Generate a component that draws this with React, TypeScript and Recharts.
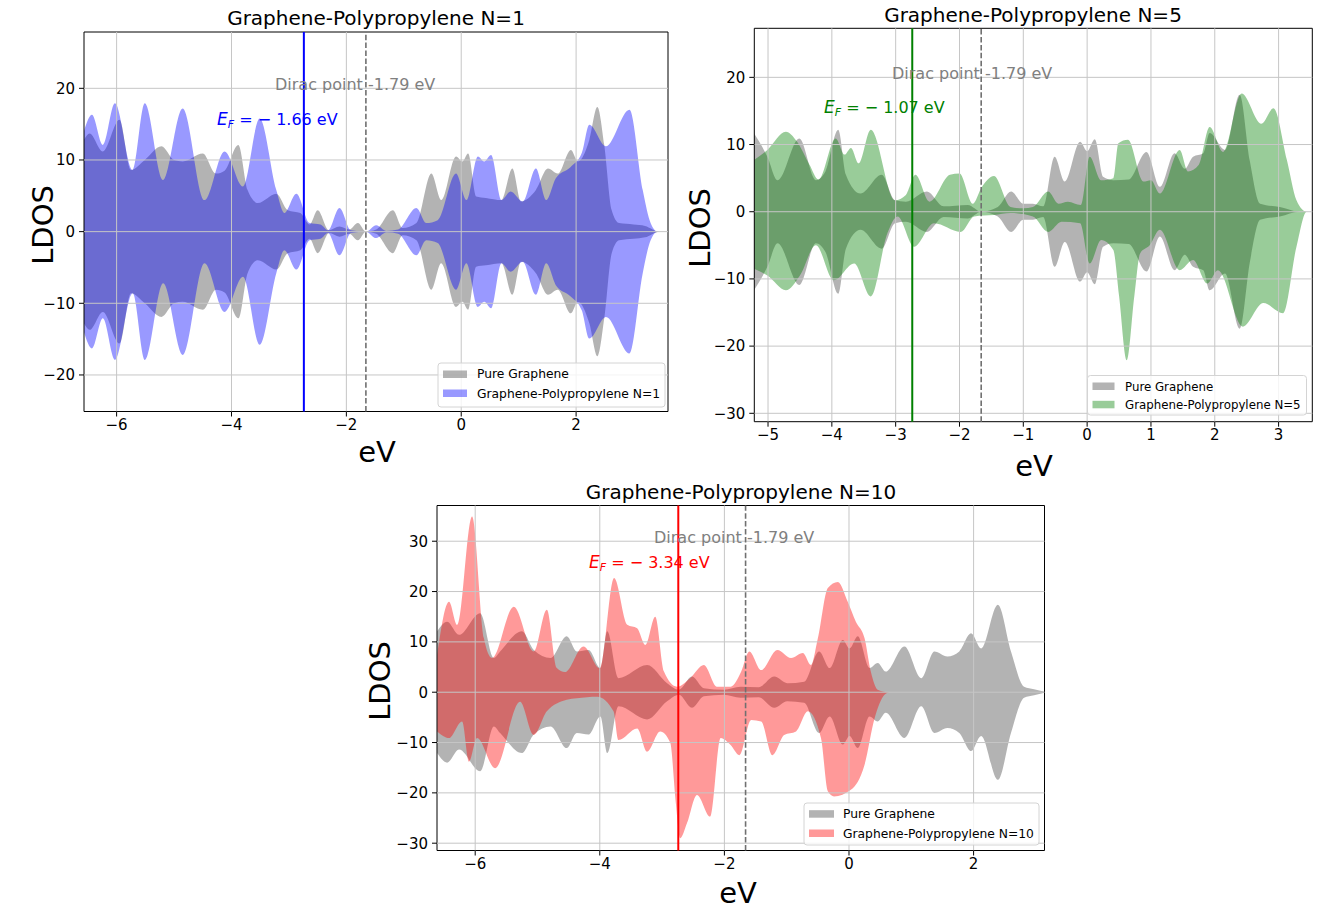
import React from 'react';
import { ComposedChart, Area, XAxis, YAxis, ReferenceLine, ReferenceArea } from 'recharts';

const FONT = '"DejaVu Sans", Verdana, sans-serif';

// ---------- Plot 1 : Graphene-Polypropylene N=1 ----------
const P1_GRAY_X = [-6.57, -6.47, -6.24, -5.95, -5.75, -5.51, -5.22, -5.0, -4.85, -4.5, -4.27, -4.12, -3.88, -3.72, -3.54, -3.22, -3.02, -2.8, -2.64, -2.5, -2.3, -2.12, -1.95, -1.8, -1.66, -1.48, -1.19, -1.02, -0.78, -0.52, -0.35, -0.09, 0.02, 0.12, 0.26, 0.43, 0.7, 0.89, 1.04, 1.3, 1.51, 1.68, 1.91, 2.03, 2.23, 2.37, 2.49, 2.62, 2.75, 3.0, 3.2, 3.45, 3.6];
const P1_GRAY_Y = [12.8, 13.7, 11.2, 15.6, 8.6, 10.0, 11.9, 10.0, 9.8, 10.9, 8.1, 8.5, 12.1, 5.8, 4.0, 5.3, 3.0, 2.6, 1.0, 3.0, 0.2, 0.7, 0.3, 1.2, 0, 0.3, 3.0, 0.5, 1.2, 8.1, 4.4, 10.5, 9.8, 10.9, 4.9, 4.7, 4.4, 8.8, 4.2, 5.8, 8.8, 8.1, 11.4, 9.8, 12.8, 17.4, 12.1, 3.0, 1.2, 1.0, 0.8, 0, 0];
const P1_N1_X = [-6.57, -6.43, -6.24, -6.03, -5.72, -5.51, -5.19, -4.85, -4.47, -4.12, -3.8, -3.51, -3.22, -3.08, -2.87, -2.64, -2.45, -2.32, -2.12, -1.92, -1.66, -1.48, -1.3, -1.1, -0.78, -0.61, -0.41, -0.09, 0.09, 0.29, 0.4, 0.52, 0.7, 0.86, 1.07, 1.3, 1.48, 1.65, 1.9, 2.1, 2.23, 2.52, 2.93, 3.16, 3.28, 3.42, 3.6];
const P1_N1_Y = [14.0, 16.3, 12.1, 17.9, 8.6, 17.9, 7.2, 17.2, 4.4, 11.2, 6.3, 15.8, 5.8, 2.6, 5.3, 1.2, 1.0, 0.2, 3.3, 0.2, 0, 0.9, 0.1, 0.3, 3.3, 1.2, 1.6, 8.1, 4.4, 10.5, 9.8, 10.7, 4.4, 5.6, 4.2, 8.8, 4.4, 7.5, 9.0, 11.0, 14.9, 11.9, 17.0, 5.8, 1.6, 0, 0];

// ---------- Plot 2 : Graphene-Polypropylene N=5 ----------
const P2_GRAY_X = [-5.22, -5.01, -4.85, -4.51, -4.25, -4.1, -3.9, -3.78, -3.55, -3.22, -3.01, -2.84, -2.51, -2.25, -1.87, -1.66, -1.4, -1.19, -1.0, -0.85, -0.69, -0.51, -0.35, -0.11, 0.0, 0.12, 0.25, 0.41, 0.65, 0.93, 1.14, 1.37, 1.53, 1.66, 1.82, 1.92, 2.16, 2.39, 2.55, 2.71, 3.02, 3.33, 3.53];
const P2_GRAY_Y = [11.7, 8.2, 4.7, 10.9, 4.7, 6.0, 12.2, 5.5, 2.7, 5.5, 1.7, 1.5, 3.0, 0.8, 1.0, 0, 0.7, 3.0, 1.2, 1.2, 0.8, 8.2, 4.5, 10.4, 9.0, 10.8, 5.2, 4.7, 4.8, 8.9, 3.7, 8.7, 6.4, 8.2, 8.7, 11.7, 9.2, 17.4, 7.5, 1.2, 0.7, 0, 0];
const P2_N5_UP_X = [-5.22, -5.01, -4.72, -4.55, -4.35, -4.21, -3.94, -3.8, -3.7, -3.58, -3.39, -3.01, -2.84, -2.69, -2.47, -2.15, -2.0, -1.79, -1.66, -1.46, -1.2, -1.0, -0.85, -0.61, -0.45, -0.3, -0.1, 0.04, 0.22, 0.41, 0.49, 0.64, 0.88, 1.0, 1.14, 1.45, 1.58, 1.75, 1.92, 2.13, 2.42, 2.73, 2.92, 3.13, 3.28, 3.44, 3.53];
const P2_N5_UP_Y = [7.7, 9.2, 11.9, 10.5, 7.0, 4.8, 10.9, 8.5, 9.5, 7.2, 12.2, 1.7, 2.5, 5.5, 1.5, 5.5, 5.7, 1.2, 3.5, 5.3, 0.7, 0.5, 0.7, 3.0, 1.2, 1.5, 1.0, 8.2, 4.7, 5.0, 10.2, 10.7, 4.5, 4.7, 2.7, 9.2, 6.0, 7.0, 12.6, 8.9, 17.6, 13.1, 15.4, 7.7, 1.7, 0, 0];
const P2_N5_DN_X = [-5.22, -5.01, -4.72, -4.5, -4.25, -3.97, -3.65, -3.39, -3.13, -2.97, -2.71, -2.4, -1.98, -1.77, -1.46, -1.2, -0.85, -0.61, -0.4, -0.11, 0.04, 0.22, 0.41, 0.5, 0.62, 0.74, 0.83, 0.98, 1.14, 1.45, 1.66, 1.88, 2.05, 2.44, 2.76, 3.07, 3.28, 3.44, 3.53];
const P2_N5_DN_Y = [-8.5, -9.5, -11.7, -9.5, -5.0, -10.2, -7.7, -12.6, -3.2, -0.7, -5.2, -1.7, -3.0, -0.7, -0.5, -0.2, -0.7, -3.0, -1.5, -1.7, -7.7, -4.2, -5.7, -12.5, -22.1, -12.5, -6.2, -5.0, -2.7, -8.7, -7.2, -10.7, -8.7, -17.1, -13.6, -15.1, -5.2, 0, 0];

// ---------- Plot 3 : Graphene-Polypropylene N=10 ----------
const P3_GRAY_X = [-6.61, -6.45, -6.26, -5.92, -5.7, -5.6, -5.25, -5.06, -4.79, -4.53, -4.37, -4.18, -3.99, -3.88, -3.7, -3.24, -2.92, -2.73, -2.52, -2.33, -2.01, -1.74, -1.45, -1.2, -0.99, -0.72, -0.48, -0.31, -0.1, 0.01, 0.14, 0.33, 0.46, 0.59, 0.89, 1.16, 1.37, 1.58, 1.77, 1.96, 2.12, 2.39, 2.6, 2.81, 2.97, 3.14];
const P3_GRAY_Y = [12.1, 14.0, 11.4, 15.7, 6.8, 8.1, 12.1, 8.4, 6.8, 11.1, 8.1, 8.4, 4.8, 12.1, 2.8, 5.4, 1.8, 0.5, 3.1, 0.8, 0.5, 1.1, 1.0, 3.1, 1.8, 2.1, 8.1, 4.8, 10.4, 8.7, 11.1, 4.8, 5.8, 4.1, 9.1, 2.8, 8.1, 7.1, 8.1, 11.7, 8.7, 17.4, 8.1, 1.1, 0.6, 0.1];
const P3_N10_UP_X = [-6.61, -6.42, -6.29, -6.05, -5.86, -5.73, -5.38, -5.06, -4.85, -4.69, -4.56, -4.26, -4.0, -3.77, -3.56, -3.4, -3.27, -3.11, -2.97, -2.76, -2.55, -2.33, -2.12, -1.9, -1.73, -1.6, -1.41, -1.15, -0.93, -0.74, -0.61, -0.5, -0.34, -0.18, -0.02, 0.11, 0.25, 0.35, 0.46, 0.62];
const P3_N10_UP_Y = [7.4, 18.0, 13.4, 34.9, 10.7, 6.8, 17.0, 8.1, 16.4, 4.8, 4.0, 9.1, 4.8, 22.7, 13.4, 12.7, 9.4, 15.0, 4.1, 1.1, 2.8, 5.4, 1.1, 1.1, 4.1, 8.1, 4.4, 8.4, 6.8, 7.8, 5.4, 10.7, 20.7, 21.9, 18.0, 14.0, 10.7, 4.1, 0.5, 0];
const P3_N10_DN_X = [-6.61, -6.42, -6.21, -6.1, -5.97, -5.68, -5.28, -5.06, -4.85, -4.53, -4.37, -4.04, -3.78, -3.7, -3.4, -3.24, -3.03, -2.87, -2.78, -2.71, -2.6, -2.44, -2.23, -2.06, -1.9, -1.76, -1.57, -1.41, -1.23, -1.04, -0.85, -0.66, -0.45, -0.34, -0.24, 0.03, 0.25, 0.41, 0.57, 0.65];
const P3_N10_DN_Y = [-7.8, -9.1, -5.8, -13.8, -9.1, -15.1, -1.9, -8.5, -3.8, -1.5, -1.2, -0.9, -3.8, -9.5, -7.2, -11.8, -7.8, -10.0, -22.0, -29.0, -26.0, -20.4, -24.7, -9.1, -10.5, -12.5, -5.5, -5.8, -12.5, -8.5, -7.8, -3.8, -9.1, -19.7, -20.7, -19.4, -14.4, -5.2, -0.5, 0];

// ---------- axes ticks ----------
const P1_XTICKS = [-6, -4, -2, 0, 2];
const P1_YTICKS = [-20, -10, 0, 10, 20];
const P2_XTICKS = [-5, -4, -3, -2, -1, 0, 1, 2, 3];
const P2_YTICKS = [-30, -20, -10, 0, 10, 20];
const P3_XTICKS = [-6, -4, -2, 0, 2];
const P3_YTICKS = [-30, -20, -10, 0, 10, 20, 30];

const FERMI_LINE = -2.74;
const DIRAC_LINE = -1.66;

type Pt = { x: number; lo: number; hi: number };
const sym = (xs: number[], ys: number[]): Pt[] => xs.map((x, i) => ({ x, lo: -ys[i], hi: ys[i] }));
const up = (xs: number[], ys: number[]): Pt[] => xs.map((x, i) => ({ x, lo: 0, hi: ys[i] }));
const down = (xs: number[], ys: number[]): Pt[] => xs.map((x, i) => ({ x, lo: ys[i], hi: 0 }));
const rangeKey = (d: Pt) => [d.lo, d.hi];
const fmt = (v: number) => String(v).replace('-', '\u2212');

type PanelProps = {
  left: number; top: number; width: number; height: number;
  margin: { top: number; right: number; bottom: number; left: number };
  yAxisWidth: number; xAxisHeight: number;
  xDomain: [number, number]; yDomain: [number, number];
  xTicks: number[]; yTicks: number[];
  gray: Pt[]; colored: Pt[][]; color: string; lineColor: string;
};

function Panel(p: PanelProps) {
  const tickStyle = { fill: '#000', fontSize: 15, fontFamily: FONT };
  return (
    <div style={{ position: 'absolute', left: p.left, top: p.top, width: p.width, height: p.height }}>
      <ComposedChart width={p.width} height={p.height} margin={p.margin}>
        <XAxis type="number" dataKey="x" domain={p.xDomain} ticks={p.xTicks} allowDataOverflow interval={0}
          height={p.xAxisHeight} tickSize={5} tickMargin={3} axisLine={false}
          tickLine={{ stroke: '#000', strokeWidth: 1 }} tick={tickStyle} tickFormatter={fmt} />
        <YAxis type="number" domain={p.yDomain} ticks={p.yTicks} allowDataOverflow interval={0}
          width={p.yAxisWidth} tickSize={5} tickMargin={4} axisLine={false}
          tickLine={{ stroke: '#000', strokeWidth: 1 }} tick={tickStyle} tickFormatter={fmt} />
        <Area data={p.gray} dataKey={rangeKey} type="monotone" stroke="none" fill="#808080" fillOpacity={0.6}
          isAnimationActive={false} dot={false} activeDot={false} />
        {p.colored.map((d, i) => (
          <Area key={i} data={d} dataKey={rangeKey} type="monotone" stroke="none" fill={p.color} fillOpacity={0.4}
            isAnimationActive={false} dot={false} activeDot={false} />
        ))}
        {p.xTicks.map((t) => (
          <ReferenceLine key={'gx' + t} x={t} stroke="#c6c6c6" strokeWidth={1} />
        ))}
        {p.yTicks.map((t) => (
          <ReferenceLine key={'gy' + t} y={t} stroke="#c6c6c6" strokeWidth={1} />
        ))}
        <ReferenceLine x={FERMI_LINE} stroke={p.lineColor} strokeWidth={2} />
        <ReferenceLine x={DIRAC_LINE} stroke="#707070" strokeWidth={1.6} strokeDasharray="5.5 2.4" />
        <ReferenceArea x1={p.xDomain[0]} x2={p.xDomain[1]} y1={p.yDomain[0]} y2={p.yDomain[1]}
          fill="none" fillOpacity={0} stroke="#000" strokeWidth={1} ifOverflow="visible" />
      </ComposedChart>
    </div>
  );
}

function EF({ x, y, color, value }: { x: number; y: number; color: string; value: string }) {
  return (
    <text x={x} y={y} fill={color} fontSize={16} fontFamily={FONT} style={{ whiteSpace: 'pre' }}>
      <tspan fontStyle="italic" fontSize={17}>E</tspan>
      <tspan fontStyle="italic" fontSize={11} dy={3}>F</tspan>
      <tspan dy={-3}>{' = \u2212 ' + value + ' eV'}</tspan>
    </text>
  );
}

function LegendBox({ x, y, w, h, sw, s1, s2, tx, b1, b2, fs, color, label }:
  { x: number; y: number; w: number; h: number; sw: number; s1: number; s2: number; tx: number; b1: number; b2: number; fs: number; color: string; label: string }) {
  return (
    <g>
      <rect x={x} y={y} width={w} height={h} rx={3} fill="#fff" fillOpacity={0.8} stroke="#d4d4d4" strokeWidth={1} />
      <rect x={x + 5} y={s1} width={sw} height={7.5} fill="#808080" fillOpacity={0.6} />
      <rect x={x + 5} y={s2} width={sw} height={7.5} fill={color} fillOpacity={0.4} />
      <text x={tx} y={b1} fontSize={fs} fontFamily={FONT} fill="#000">Pure Graphene</text>
      <text x={tx} y={b2} fontSize={fs} fontFamily={FONT} fill="#000">{label}</text>
    </g>
  );
}

export default function App() {
  return (
    <div style={{ position: 'absolute', left: 0, top: 0, width: 1319, height: 909, overflow: 'hidden', background: '#fff' }}>
      <Panel left={0} top={0} width={680} height={470}
        margin={{ top: 32, right: 12, bottom: 0, left: 0 }} yAxisWidth={84} xAxisHeight={58.5}
        xDomain={[-6.568, 3.6]} yDomain={[-25.1, 27.86]} xTicks={P1_XTICKS} yTicks={P1_YTICKS}
        gray={sym(P1_GRAY_X, P1_GRAY_Y)} colored={[sym(P1_N1_X, P1_N1_Y)]} color="#0000ff" lineColor="#0000ff" />
      <Panel left={680} top={0} width={636} height={482}
        margin={{ top: 28.3, right: 3.7, bottom: 0, left: 0 }} yAxisWidth={74.3} xAxisHeight={60.3}
        xDomain={[-5.215, 3.528]} yDomain={[-31.25, 27.3]} xTicks={P2_XTICKS} yTicks={P2_YTICKS}
        gray={sym(P2_GRAY_X, P2_GRAY_Y)} colored={[up(P2_N5_UP_X, P2_N5_UP_Y), down(P2_N5_DN_X, P2_N5_DN_Y)]}
        color="#008000" lineColor="#008000" />
      <Panel left={360} top={470} width={695} height={438.5}
        margin={{ top: 35.5, right: 10.5, bottom: 0, left: 0 }} yAxisWidth={77} xAxisHeight={58}
        xDomain={[-6.613, 3.138]} yDomain={[-31.45, 37.1]} xTicks={P3_XTICKS} yTicks={P3_YTICKS}
        gray={sym(P3_GRAY_X, P3_GRAY_Y)} colored={[up(P3_N10_UP_X, P3_N10_UP_Y), down(P3_N10_DN_X, P3_N10_DN_Y)]}
        color="#ff0000" lineColor="#ff0000" />

      <svg width={1319} height={909} style={{ position: 'absolute', left: 0, top: 0, pointerEvents: 'none' }}>
        {/* titles */}
        <text x={376} y={25} textAnchor="middle" fontSize={20} fontFamily={FONT} fill="#000">Graphene-Polypropylene N=1</text>
        <text x={1033} y={22} textAnchor="middle" fontSize={20} fontFamily={FONT} fill="#000">Graphene-Polypropylene N=5</text>
        <text x={741} y={499} textAnchor="middle" fontSize={20} fontFamily={FONT} fill="#000">Graphene-Polypropylene N=10</text>

        {/* axis labels */}
        <text x={377} y={462} textAnchor="middle" fontSize={29} fontFamily={FONT} fill="#000">eV</text>
        <text x={1034} y={476} textAnchor="middle" fontSize={29} fontFamily={FONT} fill="#000">eV</text>
        <text x={738} y={903} textAnchor="middle" fontSize={29} fontFamily={FONT} fill="#000">eV</text>
        <text transform="translate(53,225) rotate(-90)" textAnchor="middle" fontSize={29} fontFamily={FONT} fill="#000">LDOS</text>
        <text transform="translate(710,228) rotate(-90)" textAnchor="middle" fontSize={29} fontFamily={FONT} fill="#000">LDOS</text>
        <text transform="translate(390,681) rotate(-90)" textAnchor="middle" fontSize={29} fontFamily={FONT} fill="#000">LDOS</text>

        {/* annotations */}
        <text x={275} y={90} fontSize={16} fontFamily={FONT} fill="#808080">Dirac point -1.79 eV</text>
        <EF x={217} y={125} color="#0000ff" value="1.66" />
        <text x={892} y={79} fontSize={16} fontFamily={FONT} fill="#808080">Dirac point -1.79 eV</text>
        <EF x={824} y={113} color="#008000" value="1.07" />
        <text x={654} y={543} fontSize={16} fontFamily={FONT} fill="#808080">Dirac point -1.79 eV</text>
        <EF x={589} y={568} color="#ff0000" value="3.34" />

        {/* legends */}
        <LegendBox x={438} y={363} w={227} h={44} sw={24} s1={370.5} s2={389.5} tx={477} b1={378.3} b2={397.7} fs={12.3}
          color="#0000ff" label="Graphene-Polypropylene N=1" />
        <LegendBox x={1087.5} y={375.5} w={219} h={39.5} sw={22} s1={382.5} s2={400.8} tx={1125} b1={391} b2={409.3} fs={11.8}
          color="#008000" label="Graphene-Polypropylene N=5" />
        <LegendBox x={804} y={803} w={235} h={42} sw={25} s1={810.2} s2={829.5} tx={843} b1={818.3} b2={837.7} fs={12.3}
          color="#ff0000" label="Graphene-Polypropylene N=10" />
      </svg>
    </div>
  );
}
